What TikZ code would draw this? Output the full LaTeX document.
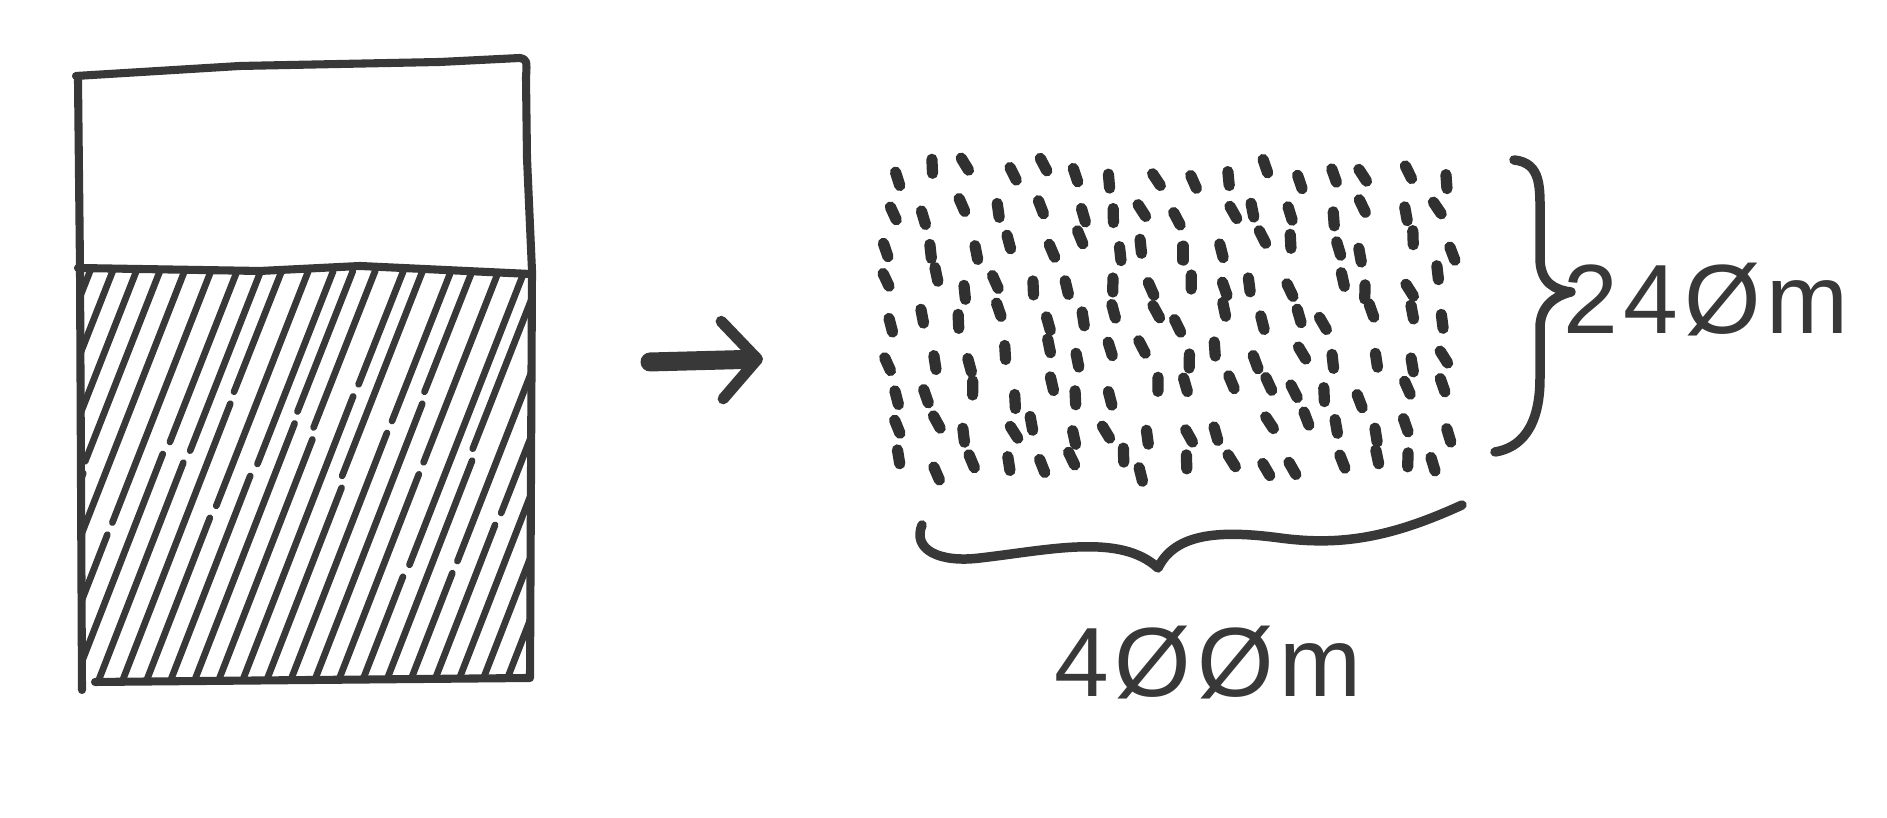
\documentclass[tikz,border=0pt]{standalone}
\usepackage{fontspec}
\setmainfont{Liberation Sans}
\usetikzlibrary{arrows.meta,calc,positioning}
\definecolor{ink}{HTML}{383838}
\tikzset{
  outline/.style={draw=ink, line width=2.3pt, line cap=round, line join=round},
  hatch/.style={draw=ink, line width=1.9pt, line cap=round},
  grain/.style={draw=ink!85!black, line width=3.2pt, line cap=round},
  curly/.style={draw=ink, line width=2.7pt, line cap=round, line join=round},
  hand/.style={font=\fontsize{28}{32}\selectfont\addfontfeature{LetterSpace=6}, text=ink, inner sep=0pt}
}

\begin{document}
\begin{tikzpicture}
\useasboundingbox (0,0) rectangle (18.87,8.18);
%----- beaker: empty top, hatched bottom -----
\begin{scope}
  \clip (0.78,1.36) rectangle (5.30,5.47);
  \pgfmathsetseed{11}
  \foreach \x in {-0.70,-0.46,...,5.40} {
    \pgfmathsetmacro{\f}{0.45+0.25*rand}
    \pgfmathsetmacro{\off}{0.04*rand}
    \draw[hatch] (\x,1.36) -- ($(\x,1.36)+(1.60*\f,4.11*\f)$);
    \draw[hatch] ($(\x+\off,1.36)+(1.60*\f+0.04,4.11*\f+0.12)$) -- (\x+\off+1.60,5.47);
  }
\end{scope}
\draw[outline] (0.76,7.42) -- (2.40,7.52) -- (4.40,7.56) -- (5.20,7.60)
  .. controls (5.27,7.58) .. (5.26,7.40) -- (5.27,6.60) -- (5.32,5.47) -- (5.30,1.40)
  -- (0.95,1.36);
\draw[outline] (0.78,7.38) -- (0.80,5.50) -- (0.82,1.28);
\draw[outline] (0.78,5.50) -- (2.60,5.47) -- (3.60,5.52) -- (5.30,5.44);

%----- arrow -----
\coordinate (arrowtail) at (6.50,4.56);
\coordinate (arrowtip) at (7.63,4.59);
\draw[draw=ink, line width=5.4pt, line cap=round,
  -{Straight Barb[line width=3.2pt, length=10pt, width=22pt, round]}]
  (arrowtail) -- (arrowtip);

%----- grains -----
\pgfmathsetseed{42}
\foreach \r in {0,...,8} {
  \foreach \c in {0,...,15} {
    \pgfmathsetmacro{\gx}{8.95 + \c*0.365 + 0.11*rand}
    \pgfmathsetmacro{\gy}{6.45 - \r*0.365 + 0.10*rand}
    \pgfmathsetmacro{\ga}{-74 + 18*rand}
    \pgfmathsetmacro{\gb}{\ga+180}
    \draw[grain] (\gx,\gy) ++(\gb:0.07) -- ++(\ga:0.14);
  }
}

%----- braces -----
\draw[curly] (15.14,6.58) .. controls (15.42,6.55) and (15.40,6.30) .. (15.40,6.00)
  -- (15.40,5.60) .. controls (15.40,5.35) and (15.55,5.28) .. (15.71,5.26)
  .. controls (15.55,5.22) and (15.40,5.12) .. (15.40,4.90)
  -- (15.40,4.40) .. controls (15.40,3.90) and (15.20,3.70) .. (14.95,3.66);
\draw[curly] (9.22,2.93) .. controls (9.12,2.68) and (9.40,2.55) .. (9.80,2.60)
  .. controls (10.50,2.68) and (11.20,2.85) .. (11.58,2.50)
  .. controls (11.75,2.85) and (12.20,2.88) .. (12.80,2.80)
  .. controls (13.40,2.72) and (13.90,2.80) .. (14.62,3.13);

%----- labels -----
\node[hand] (height) at (17.06,5.18) {24Øm};
\node[hand] (width) at (12.08,1.55) {4ØØm};
\end{tikzpicture}
\end{document}
